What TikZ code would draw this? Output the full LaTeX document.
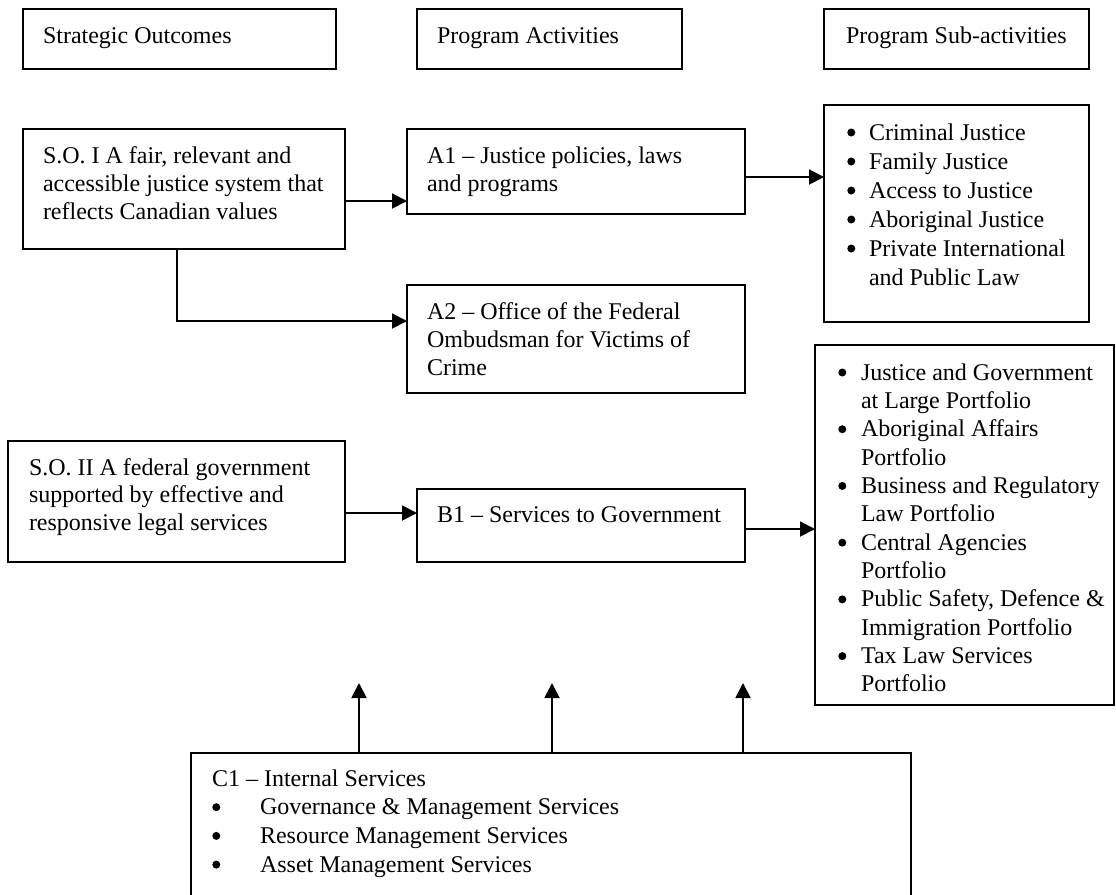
\documentclass[tikz,border=0pt]{standalone}
\usepackage{fontspec}
\setmainfont{Liberation Serif}
\usetikzlibrary{arrows.meta}
\newcommand\linesblock[1]{\begin{tabular}[t]{@{}l@{}}#1\end{tabular}}
\newcommand\bulletblock[2]{\begin{tabular}[t]{@{}l@{}l@{}}#2\end{tabular}}
\newcommand\bt[1]{\makebox[#1][l]{\hspace{0.3pt}\tikz[baseline={(0pt,-7.5pt)}]{\fill[black] (4pt,0pt) circle[radius=4pt];}}}
\begin{document}
\begin{tikzpicture}[x=1pt,y=-1pt,
  box/.style={draw, line width=1.9pt, inner sep=0pt, outer sep=0pt, anchor=north west},
  txt/.style={anchor=base west, inner sep=0pt, outer sep=0pt, font=\fontsize{24}{28.4}\selectfont},
  arr/.style={line width=1.9pt, -{Triangle[length=15pt,width=15pt]}}]
\useasboundingbox (0,0) rectangle (1116,894);
% headers
\node[box, minimum width=313pt, minimum height=60pt] (h1) at (23,9) {};
\node[box, minimum width=265pt, minimum height=60pt] (h2) at (417,9) {};
\node[box, minimum width=265pt, minimum height=60pt] (h3) at (824,9) {};
\node[txt] (h1t) at (43,43) {Strategic Outcomes};
\node[txt] (h2t) at (437,43) {Program Activities};
\node[txt] (h3t) at (846,43) {Program Sub-activities};
% boxes
\node[box, minimum width=322pt, minimum height=120pt] (so1) at (23,129) {};
\node[box, minimum width=338pt, minimum height=85pt] (a1) at (407,129) {};
\node[box, minimum width=338pt, minimum height=108pt] (a2) at (407,285) {};
\node[box, minimum width=265pt, minimum height=217pt] (s1) at (824,105) {};
\node[box, minimum width=337pt, minimum height=121pt] (so2) at (8,441) {};
\node[box, minimum width=328pt, minimum height=73pt] (b1) at (417,489) {};
\node[box, minimum width=299pt, minimum height=360pt] (s2) at (815,345) {};
\node[box, minimum width=720pt, minimum height=144pt] (c1) at (191,753) {};
% texts
\node[txt] (so1t) at (43,163) {\linesblock{S.O. I A fair, relevant and\\accessible justice system that\\reflects Canadian values}};
\node[txt] (a1t) at (427,163) {\linesblock{A1 – Justice policies, laws\\and programs}};
\node[txt] (a2t) at (427,319) {\linesblock{A2 – Office of the Federal\\Ombudsman for Victims of\\Crime}};
\node[txt, font=\fontsize{24}{29}\selectfont] (s1t) at (847,140) {\bulletblock{}{%
\bt{22pt}&Criminal Justice\\
\bt{22pt}&Family Justice\\
\bt{22pt}&Access to Justice\\
\bt{22pt}&Aboriginal Justice\\
\bt{22pt}&Private International\\
&and Public Law}};
\node[txt, font=\fontsize{24}{27.6}\selectfont] (so2t) at (29,475) {\linesblock{S.O. II A federal government\\supported by effective and\\responsive legal services}};
\node[txt] (b1t) at (437,522) {B1 – Services to Government};
\node[txt, font=\fontsize{24}{28.36}\selectfont] (s2t) at (838,380) {\bulletblock{}{%
\bt{23pt}&Justice and Government\\
&at Large Portfolio\\
\bt{23pt}&Aboriginal Affairs\\
&Portfolio\\
\bt{23pt}&Business and Regulatory\\
&Law Portfolio\\
\bt{23pt}&Central Agencies\\
&Portfolio\\
\bt{23pt}&Public Safety, Defence \&\\
&Immigration Portfolio\\
\bt{23pt}&Tax Law Services\\
&Portfolio}};
\node[txt, font=\fontsize{24}{28.7}\selectfont] (c1t) at (212,786) {\begin{tabular}[t]{@{}l@{}l@{}}%
\multicolumn{2}{@{}l@{}}{C1 – Internal Services}\\
\bt{48pt}&Governance \& Management Services\\
\bt{48pt}&Resource Management Services\\
\bt{48pt}&Asset Management Services\end{tabular}};
% connectors
\coordinate (p1) at ([yshift=-12pt]so1.east);
\draw[arr] (p1) -- (p1 -| a1.west);
\draw[arr] ([xshift=-7pt]so1.south) |- ([yshift=18pt]a2.west);
\coordinate (p2) at ([yshift=-5.5pt]a1.east);
\draw[arr] (p2) -- (p2 -| s1.west);
\coordinate (p3) at ([yshift=-11.5pt]so2.east);
\draw[arr] (p3) -- (p3 -| b1.west);
\coordinate (p4) at ([yshift=-3.5pt]b1.east);
\draw[arr] (p4) -- (p4 -| s2.west);
\coordinate (t1) at (359,683);
\coordinate (t2) at (552,683);
\coordinate (t3) at (743,683);
\draw[arr] (c1.north -| t1) -- (t1);
\draw[arr] (c1.north -| t2) -- (t2);
\draw[arr] (c1.north -| t3) -- (t3);
\end{tikzpicture}
\end{document}
